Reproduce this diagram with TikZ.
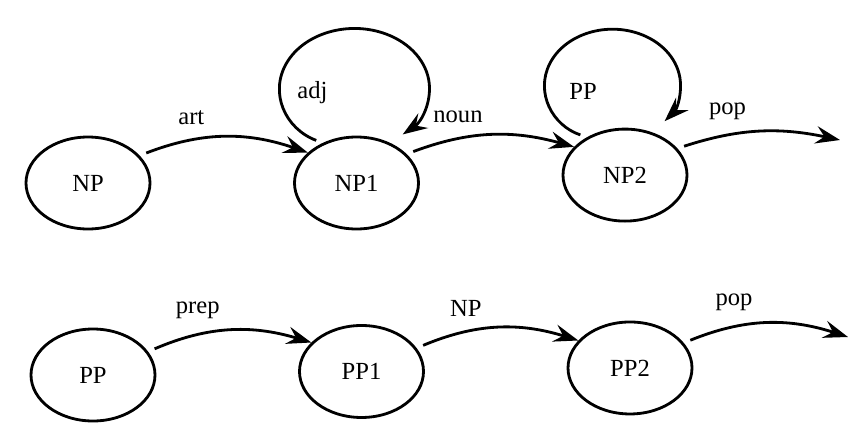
\documentclass[tikz,border=0pt]{standalone}
\usepackage{fontspec}
\setmainfont{Liberation Serif}
\usetikzlibrary{positioning,arrows.meta,shapes.geometric}
\tikzset{
    on grid,
    node distance=5.37cm,
    netstate/.style = {
        draw,
        shape=ellipse,
        minimum height=1.84cm,
        minimum width=2.48cm,
        line width=1.6pt
    },
    arc/.style = {
        line width=1.6pt,
        shorten <=4pt
    },
    lbl/.style = {
        pos=0.3,
        above=5pt
    },
    >={Stealth[length=14pt,width=10pt,inset=5pt]},
}

\begin{document}
\begin{tikzpicture}[font=\rmfamily\fontsize{14}{16}\selectfont]
    \useasboundingbox (0,0) rectangle (17.18,-8.66);

    % noun phrase network
    \node[netstate] (np) at (1.76,-3.66) {NP};
    \node[netstate, right of=np] (np1) {NP1};
    \node[netstate, right of=np1, yshift=4.5pt] (np2) {NP2};
    \coordinate (npend) at (16.8,-2.8);

    % prepositional phrase network
    \node[netstate] (pp) at (1.86,-7.50) {PP};
    \node[netstate, right of=pp, yshift=2pt] (pp1) {PP1};
    \node[netstate, right of=pp1, yshift=2pt] (pp2) {PP2};
    \coordinate (ppend) at (16.96,-6.74);

    %connect
    \path[draw, arc, ->] (np.28) to[bend left=20] node[lbl]{art} (np1.148);
    \path[draw, arc, ->] (np1.130)
        arc[start angle=-115, end angle=-410, x radius=1.5cm, y radius=1.2cm];
    \node[above left=1.8cm and 0.88cm of np1] (adjlbl) {adj};
    \path[draw, arc, ->] (np1.30) to[bend left=18] node[lbl]{noun} (np2.151);
    \path[draw, arc, ->] (np2.135)
        arc[start angle=-112, end angle=-400, x radius=1.36cm, y radius=1.12cm];
    \node[above left=1.68cm and 0.84cm of np2] (pplbl) {PP};
    \path[draw, arc, ->] (np2.27) to[bend left=15] node[lbl]{pop} (npend);

    \path[draw, arc, ->] (pp.23) to[bend left=20] node[lbl]{prep} (pp1.150);
    \path[draw, arc, ->] (pp1.23) to[bend left=20] node[lbl]{NP} (pp2.152);
    \path[draw, arc, ->] (pp2.25) to[bend left=20] node[lbl]{pop} (ppend);

\end{tikzpicture}
\end{document}
